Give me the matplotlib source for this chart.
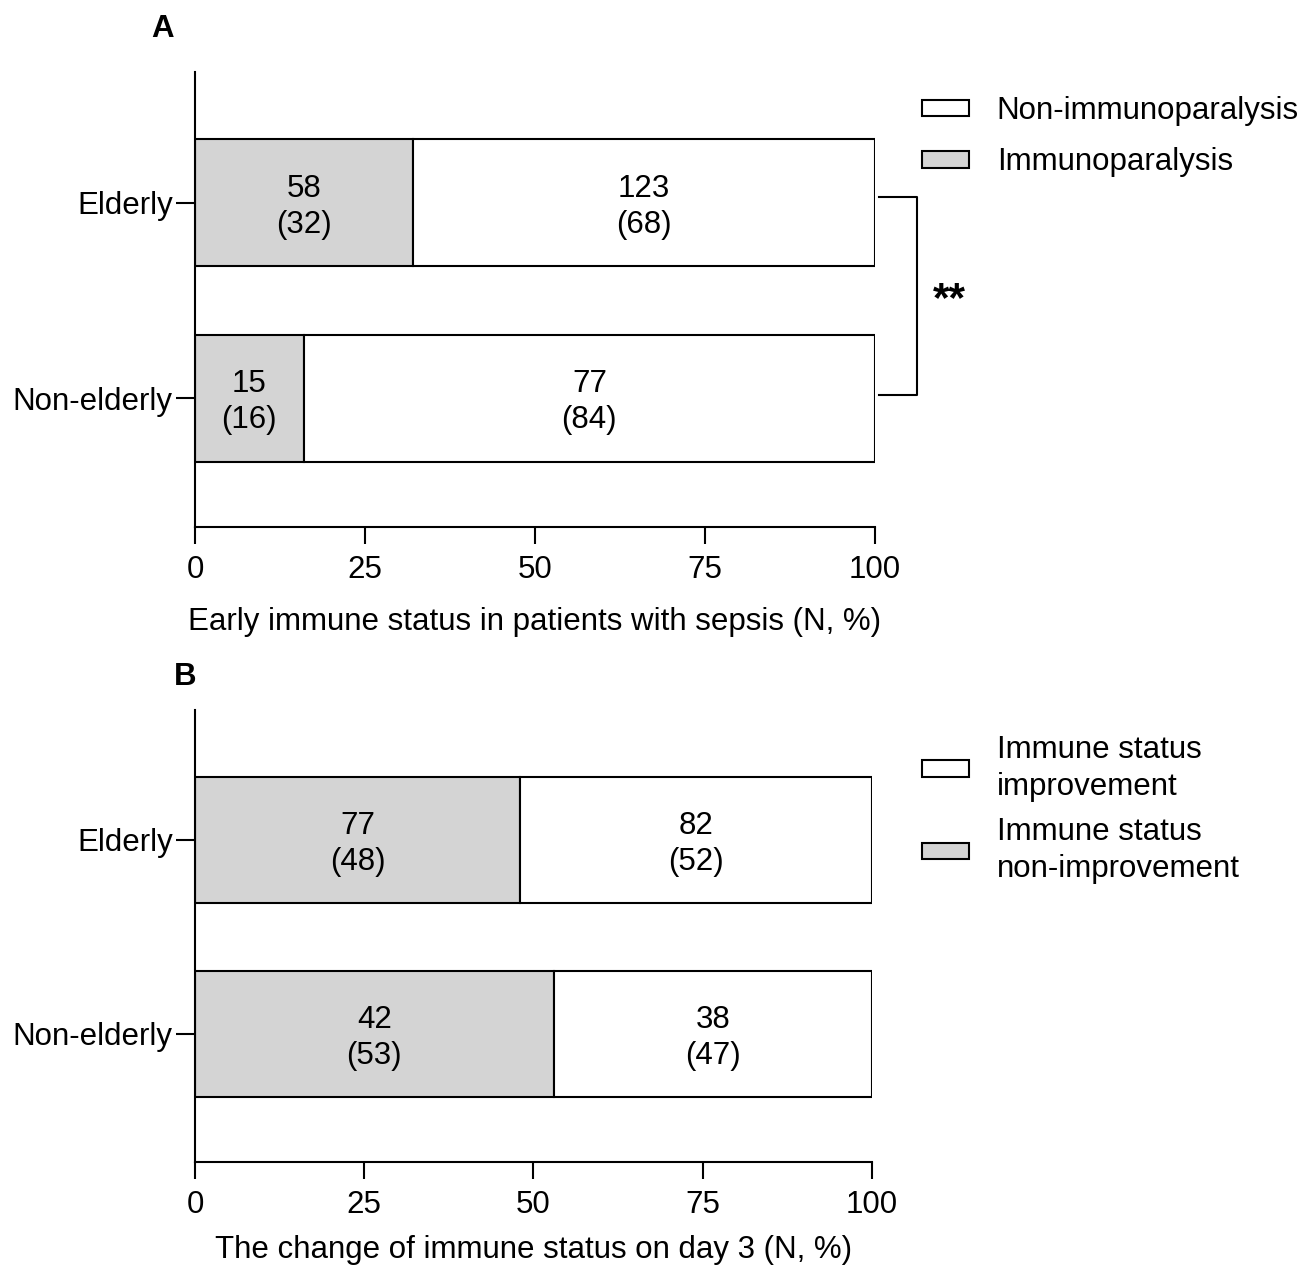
import matplotlib.pyplot as plt
from matplotlib.patches import Patch

plt.rcParams['font.family'] = ['Liberation Sans', 'DejaVu Sans']

groups = ['Non-elderly', 'Elderly']

# panel A: early immune status
a_grey_n = [15, 58]
a_grey_pct = [16, 32]
a_white_n = [77, 123]
a_white_pct = [84, 68]
a_labels = ['Non-immunoparalysis', 'Immunoparalysis']

# panel B: change on day 3
b_grey_n = [42, 77]
b_grey_pct = [53, 48]
b_white_n = [38, 82]
b_white_pct = [47, 52]
b_labels = ['Immune status\nimprovement', 'Immune status\nnon-improvement']

grey = '#d4d4d4'
fs = 22.5
lw = 1.5

fig = plt.figure(figsize=(12.99, 12.68), dpi=100)
axA = fig.add_axes([0.1501, 0.5844, 0.5235, 0.3588])
axB = fig.add_axes([0.1501, 0.0836, 0.5212, 0.3565])


def draw(ax, gn, gp, wn, wp, labels, xlabel, leg_y, ls, lpad):
    y = list(range(len(groups)))
    ax.barh(y, gp, height=0.65, color=grey, edgecolor='black', linewidth=lw)
    ax.barh(y, wp, left=gp, height=0.65, color='white', edgecolor='black', linewidth=lw)
    for i in y:
        ax.text(gp[i] / 2, i - 0.02, f'{gn[i]}\n({gp[i]})', ha='center', va='center',
                fontsize=fs, linespacing=1.25)
        ax.text(gp[i] + wp[i] / 2, i - 0.02, f'{wn[i]}\n({wp[i]})', ha='center', va='center',
                fontsize=fs, linespacing=1.25)
    ax.set_xlim(0, 100)
    ax.set_ylim(-0.66, 1.67)
    ax.set_xticks([0, 25, 50, 75, 100])
    ax.set_yticks(y)
    ax.set_yticklabels(groups)
    ax.tick_params(labelsize=fs, width=lw, length=12)
    ax.tick_params(axis='x', pad=8)
    ax.tick_params(axis='y', length=14, pad=2)
    for s in ['top', 'right']:
        ax.spines[s].set_visible(False)
    for s in ['left', 'bottom']:
        ax.spines[s].set_linewidth(lw)
    ax.set_xlabel(xlabel, fontsize=fs, labelpad=lpad)
    handles = [Patch(facecolor='white', edgecolor='black', linewidth=lw),
               Patch(facecolor=grey, edgecolor='black', linewidth=lw)]
    leg = ax.legend(handles, labels, loc='upper left', bbox_to_anchor=(0.7, leg_y),
                    bbox_transform=fig.transFigure, frameon=False, fontsize=fs,
                    handlelength=1.5, handleheight=0.45, handletextpad=0.9,
                    labelspacing=ls, borderaxespad=0)
    for t in leg.get_texts():
        t.set_linespacing(1.3)


draw(axA, a_grey_n, a_grey_pct, a_white_n, a_white_pct, a_labels,
     'Early immune status in patients with sepsis (N, %)', 0.934, 0.68, 16)
draw(axB, b_grey_n, b_grey_pct, b_white_n, b_white_pct, b_labels,
     'The change of immune status on day 3 (N, %)', 0.4305, 0.5, 11)

# significance bracket
axA.plot([100.6, 106.2, 106.2, 100.6], [1.03, 1.03, 0.015, 0.015],
         color='black', linewidth=lw, clip_on=False)
axA.text(110.9, 0.50, '**', ha='center', va='center', fontsize=fs * 1.35, fontweight='bold')

fig.text(0.1255, 0.977, 'A', fontsize=fs, fontweight='bold', ha='center', va='center')
fig.text(0.1425, 0.466, 'B', fontsize=fs, fontweight='bold', ha='center', va='center')

fig.savefig('out.png', dpi=100)
